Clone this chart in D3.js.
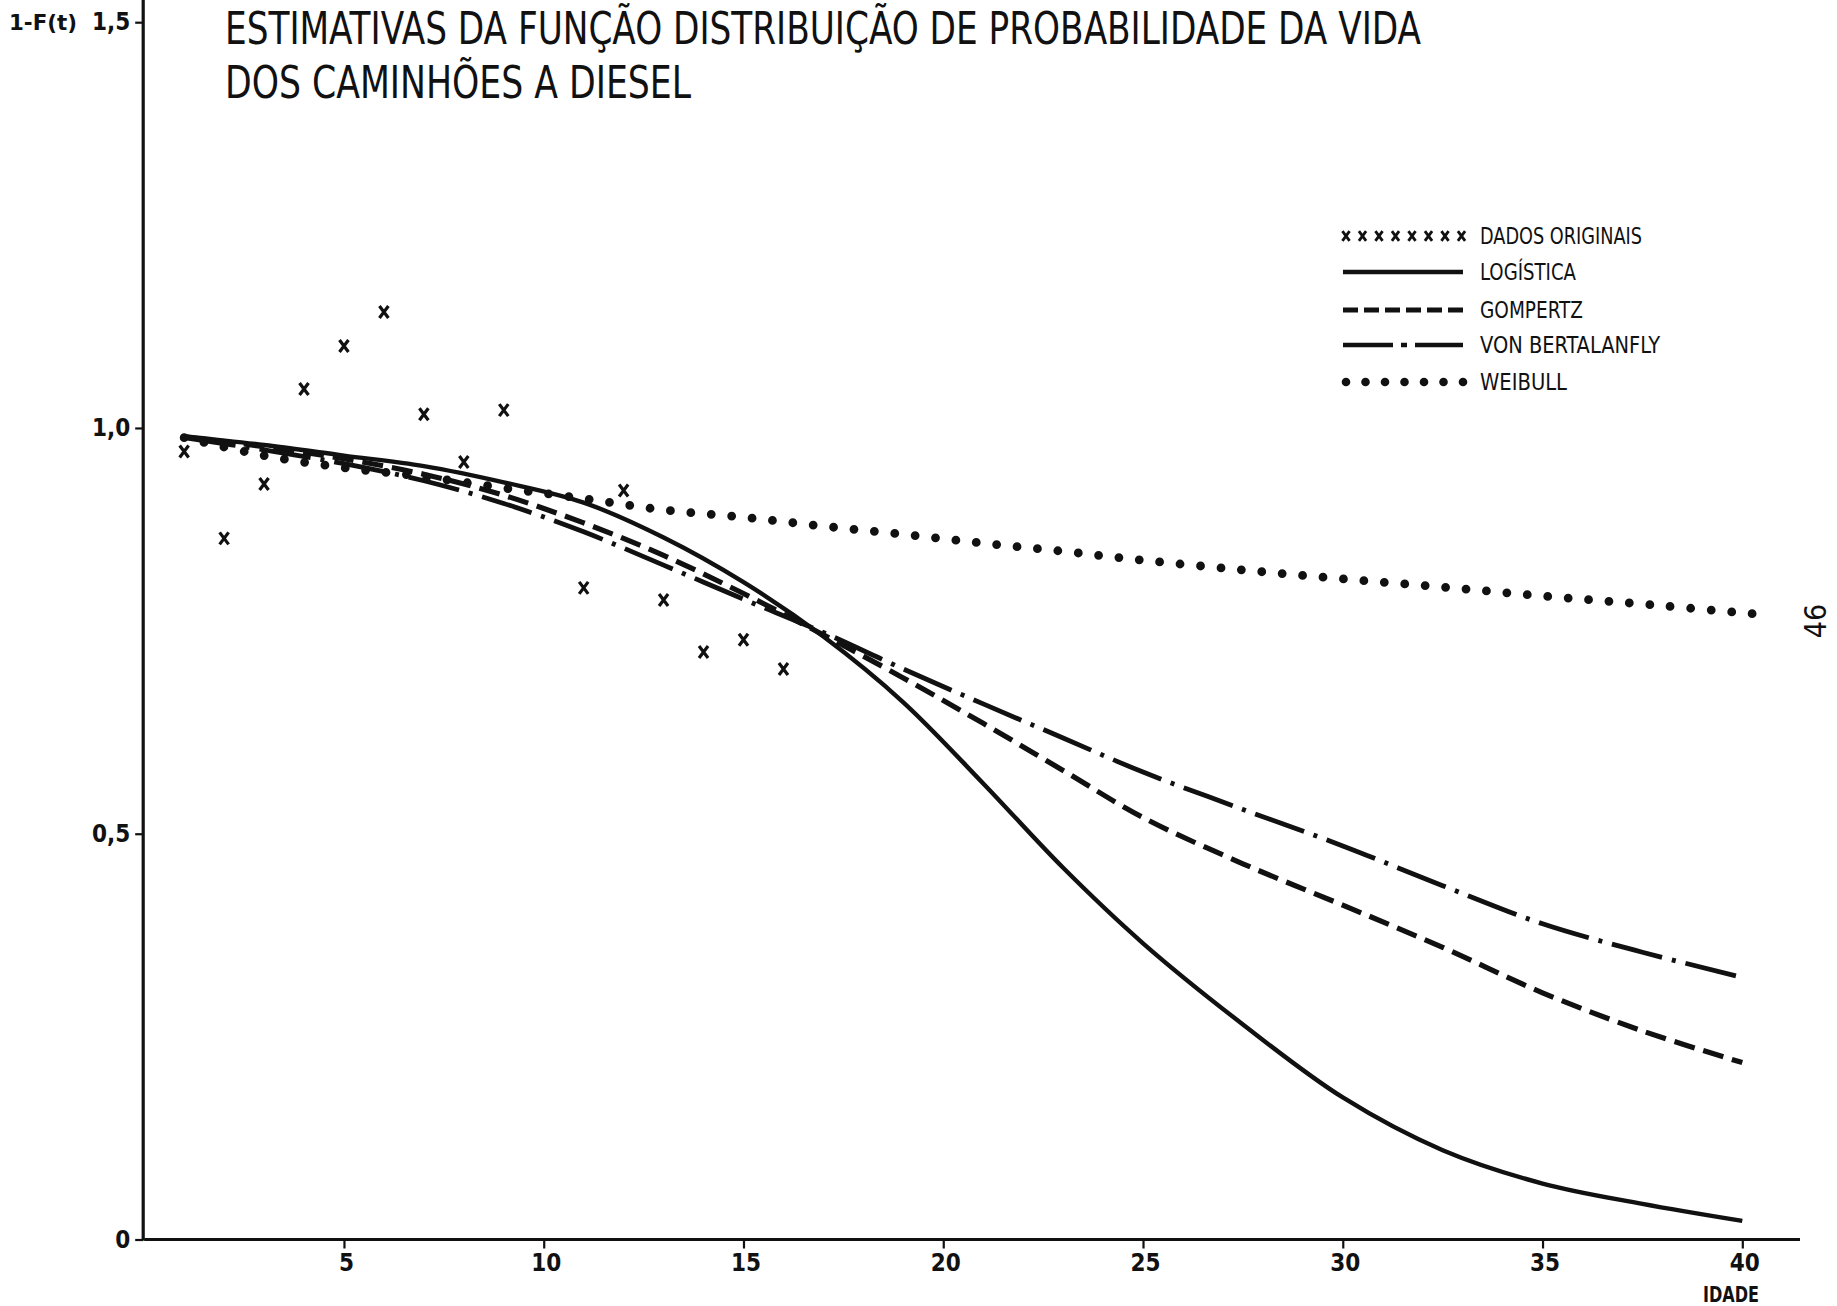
<!DOCTYPE html>
<html>
<head>
<meta charset="utf-8">
<script src="https://cdn.jsdelivr.net/npm/d3@7"></script>
<style>
  html, body { margin: 0; padding: 0; background: #fff; }
  svg { display: block; }
  .narrow { font-family: 'Liberation Sans Narrow', 'DejaVu Sans Condensed', 'Roboto Condensed', sans-serif; }
</style>
</head>
<body>
<svg id="chart" width="1837" height="1306"></svg>
<script>
// ---------------- data ----------------
const titleLines = ["ESTIMATIVAS DA FUNÇÃO DISTRIBUIÇÃO DE PROBABILIDADE DA VIDA", "DOS CAMINHÕES A DIESEL"];
const yLabel = "1-F(t)";
const xLabel = "IDADE";
const pageNumber = "46";

const xTickValues = [5, 10, 15, 20, 25, 30, 35, 40];
const xTickLabels = ["5", "10", "15", "20", "25", "30", "35", "40"];
const yTickValues = [0, 0.5, 1.0, 1.5];
const yTickLabels = ["0", "0,5", "1,0", "1,5"];

// DADOS ORIGINAIS (crosses)
const dadosAges   = [1, 2, 3, 4, 5, 6, 7, 8, 9, 11, 12, 13, 14, 15, 16];
const dadosValues = [0.971, 0.864, 0.931, 1.048, 1.101, 1.143, 1.017, 0.958, 1.022, 0.803, 0.923, 0.788, 0.724, 0.739, 0.703];

// fitted curves
const curveAges      = [1, 3, 5, 7, 9, 11, 13, 15, 17, 19, 21, 23, 25, 27.5, 30, 32.5, 35, 37.5, 40];
const logistica      = [0.990, 0.979, 0.966, 0.953, 0.933, 0.908, 0.865, 0.810, 0.743, 0.662, 0.562, 0.458, 0.365, 0.265, 0.175, 0.110, 0.069, 0.044, 0.023];
const gompertz       = [0.989, 0.977, 0.962, 0.943, 0.917, 0.883, 0.843, 0.796, 0.745, 0.692, 0.636, 0.578, 0.520, 0.463, 0.412, 0.360, 0.304, 0.257, 0.218];
const vonBertalanfly = [0.988, 0.973, 0.956, 0.935, 0.907, 0.872, 0.831, 0.789, 0.748, 0.703, 0.660, 0.618, 0.576, 0.530, 0.485, 0.436, 0.389, 0.354, 0.323];
const weibullAges    = [1, 3, 5, 7, 9, 11, 13, 15, 17, 19, 21, 23, 25, 27.5, 30, 32.5, 35, 37.5, 40.5];
const weibull        = [0.988, 0.966, 0.951, 0.940, 0.926, 0.913, 0.899, 0.890, 0.879, 0.869, 0.858, 0.848, 0.837, 0.825, 0.814, 0.804, 0.793, 0.783, 0.770];

const legendLabels = ["DADOS ORIGINAIS", "LOGÍSTICA", "GOMPERTZ", "VON BERTALANFLY", "WEIBULL"];

// ---------------- drawing ----------------
const svg = d3.select("#chart");
svg.append("rect").attr("width", 1837).attr("height", 1306).attr("fill", "#fff");

const ink = "#111";
const x = d3.scaleLinear().domain([0, 40]).range([144.2, 1742.3]);
const y = d3.scaleLinear().domain([0, 1.5]).range([1239.5, 22.2]);

// axes lines
svg.append("line").attr("x1", x(0)).attr("x2", 1800).attr("y1", y(0)).attr("y2", y(0))
  .attr("stroke", ink).attr("stroke-width", 3.2);
svg.append("line").attr("x1", x(0) - 1).attr("x2", x(0) - 1).attr("y1", 0).attr("y2", y(0) + 1)
  .attr("stroke", ink).attr("stroke-width", 3.2);

// x axis ticks
const xAxis = d3.axisBottom(x).tickValues(xTickValues).tickSize(9).tickPadding(5)
  .tickFormat((d, i) => xTickLabels[i]);
const gx = svg.append("g").attr("transform", `translate(0,${y(0)})`).call(xAxis);
gx.select(".domain").remove();
gx.selectAll(".tick line").attr("stroke", ink).attr("stroke-width", 2.2);
gx.selectAll(".tick text").attr("class", "narrow").attr("fill", ink)
  .attr("font-size", 24).attr("font-weight", "bold").attr("dx", 2);

// y axis ticks
const yAxis = d3.axisLeft(y).tickValues(yTickValues).tickSize(8).tickPadding(5)
  .tickFormat((d, i) => yTickLabels[i]);
const gy = svg.append("g").attr("transform", `translate(${x(0) - 1},0)`).call(yAxis);
gy.select(".domain").remove();
gy.selectAll(".tick line").attr("stroke", ink).attr("stroke-width", 2.2);
gy.selectAll(".tick text").attr("class", "narrow").attr("fill", ink)
  .attr("font-size", 24).attr("font-weight", "bold");

// axis labels
svg.append("text").attr("class", "narrow").attr("x", 9).attr("y", y(1.5)).attr("dy", "0.35em")
  .attr("font-size", 22).attr("font-weight", "bold").attr("fill", ink)
  .attr("textLength", 68).attr("lengthAdjust", "spacingAndGlyphs").text(yLabel);
svg.append("text").attr("class", "narrow").attr("x", 1731).attr("y", 1302)
  .attr("text-anchor", "middle").attr("font-size", 21).attr("font-weight", "bold").attr("fill", ink)
  .attr("textLength", 56).attr("lengthAdjust", "spacingAndGlyphs").text(xLabel);

// title
svg.append("text").attr("class", "narrow").attr("x", 225).attr("y", 44)
  .attr("font-size", 45).attr("fill", ink).attr("textLength", 1196).attr("lengthAdjust", "spacingAndGlyphs")
  .text(titleLines[0]);
svg.append("text").attr("class", "narrow").attr("x", 225).attr("y", 98)
  .attr("font-size", 45).attr("fill", ink).attr("textLength", 466).attr("lengthAdjust", "spacingAndGlyphs")
  .text(titleLines[1]);

// page number
svg.append("text").attr("class", "narrow").attr("transform", "translate(1826,621) rotate(-90)")
  .attr("text-anchor", "middle").attr("font-size", 30).attr("fill", ink).text(pageNumber);

// curves
const line = d3.line().x(d => x(d[0])).y(d => y(d[1])).curve(d3.curveCatmullRom.alpha(0.5));
const series = [
  { ages: curveAges, vals: logistica, dash: null, w: 4.4 },
  { ages: curveAges, vals: gompertz, dash: "21,9", w: 5.2 },
  { ages: curveAges, vals: vonBertalanfly, dash: "52,10,4,10", w: 4.8 },
  { ages: weibullAges, vals: weibull, dash: "0,20.5", w: 8.8, round: true }
];
series.forEach(s => {
  svg.append("path")
    .datum(s.ages.map((a, i) => [a, s.vals[i]]))
    .attr("d", line)
    .attr("fill", "none")
    .attr("stroke", ink)
    .attr("stroke-width", s.w)
    .attr("stroke-linecap", s.round ? "round" : "butt")
    .attr("stroke-dasharray", s.dash);
});

// crosses
function cross(g, cx, cy, hw, hh, sw) {
  g.append("path")
    .attr("d", `M${cx - hw},${cy - hh}L${cx + hw},${cy + hh}M${cx + hw},${cy - hh}L${cx - hw},${cy + hh}`)
    .attr("stroke", ink).attr("stroke-width", sw).attr("fill", "none");
}
const gc = svg.append("g");
dadosAges.forEach((a, i) => cross(gc, x(a), y(dadosValues[i]), 4.5, 6, 3.2));

// legend
const lg = svg.append("g");
const lx0 = 1343, lx1 = 1463, ltx = 1480;
const rowsY = [236, 272, 310, 345, 382];
const textW = [162, 96, 103, 180, 87];
for (let k = 0; k < 8; k++) cross(lg, lx0 + 3 + k * 16.5, rowsY[0], 3.6, 4.8, 2.8);
lg.append("line").attr("x1", lx0).attr("x2", lx1).attr("y1", rowsY[1]).attr("y2", rowsY[1])
  .attr("stroke", ink).attr("stroke-width", 4.4);
lg.append("line").attr("x1", lx0).attr("x2", lx1).attr("y1", rowsY[2]).attr("y2", rowsY[2])
  .attr("stroke", ink).attr("stroke-width", 4.8).attr("stroke-dasharray", "15,6");
lg.append("line").attr("x1", lx0).attr("x2", lx1).attr("y1", rowsY[3]).attr("y2", rowsY[3])
  .attr("stroke", ink).attr("stroke-width", 4.4).attr("stroke-dasharray", "50,8,6,8");
for (let k = 0; k < 7; k++) lg.append("circle").attr("cx", lx0 + 3 + k * 19.5).attr("cy", rowsY[4]).attr("r", 4.3).attr("fill", ink);
legendLabels.forEach((t, i) => {
  lg.append("text").attr("class", "narrow").attr("x", ltx).attr("y", rowsY[i]).attr("dy", "0.36em")
    .attr("font-size", 23).attr("fill", ink).attr("textLength", textW[i]).attr("lengthAdjust", "spacingAndGlyphs")
    .text(t);
});
</script>
</body>
</html>
